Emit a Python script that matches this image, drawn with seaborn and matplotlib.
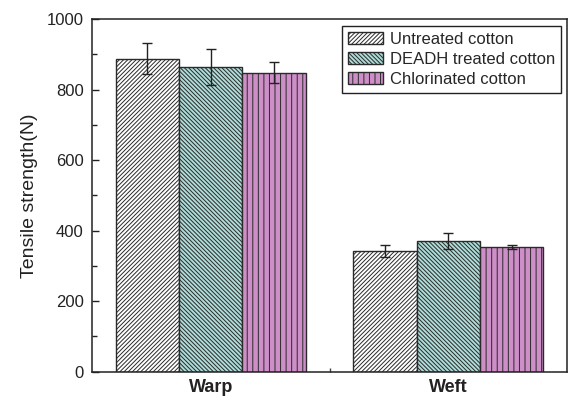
import pandas as pd
import matplotlib
matplotlib.use("Agg")
import matplotlib.pyplot as plt
from matplotlib.ticker import MultipleLocator, FixedLocator
import seaborn as sns

# valores
direcoes = ["Warp", "Weft"]
tratamentos = ["Untreated cotton", "DEADH treated cotton", "Chlorinated cotton"]
resistencia = {
    "Untreated cotton": [887, 341],
    "DEADH treated cotton": [864, 370],
    "Chlorinated cotton": [848, 353],
}
erro = {
    "Untreated cotton": [44, 17],
    "DEADH treated cotton": [50, 22],
    "Chlorinated cotton": [29, 6],
}
cores = ["#ffffff", "#a6e4de", "#d983d1"]
hachuras = ["/" * 8, "\\" * 8, "|||"]

linhas = []
for t in tratamentos:
    for d, v in zip(direcoes, resistencia[t]):
        linhas.append({"Direcao": d, "Tratamento": t, "Resistencia": v})
df = pd.DataFrame(linhas)

sns.set_style("ticks")
plt.rcParams["font.family"] = ["Liberation Sans", "DejaVu Sans"]
plt.rcParams["hatch.linewidth"] = 0.7

fig = plt.figure(figsize=(5.69, 3.96), dpi=100)
ax = fig.add_axes([0.1617, 0.0614, 0.835, 0.8906])

sns.barplot(data=df, x="Direcao", y="Resistencia", hue="Tratamento",
            hue_order=tratamentos, order=direcoes, palette=cores,
            errorbar=None, width=0.8, legend=False, ax=ax,
            edgecolor="#2a2a2a", linewidth=1.0)

for cont, t, h in zip(ax.containers, tratamentos, hachuras):
    xs = []
    ys = []
    for barra in cont:
        barra.set_hatch(h)
        xs.append(barra.get_x() + barra.get_width() / 2)
        ys.append(barra.get_height())
    ax.errorbar(xs, ys, yerr=erro[t], fmt="none", ecolor="#222222",
                elinewidth=1.0, capsize=3.5, capthick=1.0, zorder=5)

ax.set_xlim(-0.5, 1.5)
ax.set_ylim(0, 1000)
ax.yaxis.set_major_locator(MultipleLocator(200))
ax.yaxis.set_minor_locator(MultipleLocator(100))
ax.xaxis.set_minor_locator(FixedLocator([0.5]))
ax.tick_params(axis="y", which="major", direction="in", length=5, width=1,
               labelsize=12, colors="#222222", pad=6)
ax.tick_params(axis="y", which="minor", direction="in", length=3.5, width=1,
               colors="#222222")
ax.tick_params(axis="x", which="major", length=0, labelsize=13, pad=5)
ax.tick_params(axis="x", which="minor", direction="in", length=3, width=1,
               colors="#444444")
for lab in ax.get_xticklabels():
    lab.set_fontweight("bold")
    lab.set_color("#222222")

ax.set_xlabel("")
ax.set_ylabel("Tensile strength(N)", fontsize=14, color="#222222", labelpad=6)

for lado in ["top", "right", "left", "bottom"]:
    ax.spines[lado].set_visible(True)
    ax.spines[lado].set_color("#222222")
    ax.spines[lado].set_linewidth(1.1)

leg = ax.legend(ax.containers, tratamentos, loc="upper right",
                bbox_to_anchor=(0.9935, 0.989), fontsize=12, frameon=True,
                fancybox=False, edgecolor="#222222", framealpha=1,
                handlelength=2.1, handleheight=0.75, labelspacing=0.3,
                handletextpad=0.4, borderpad=0.35, borderaxespad=0.2)
leg.get_frame().set_linewidth(1.0)

plt.savefig("out.png", dpi=100)
plt.close()
